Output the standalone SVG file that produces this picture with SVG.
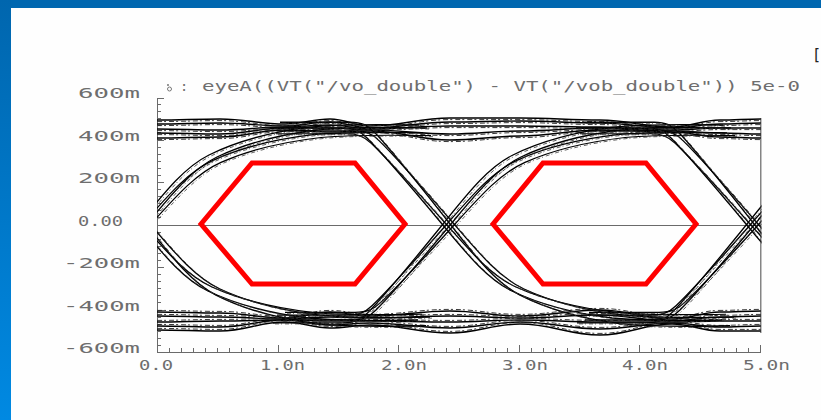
<svg xmlns="http://www.w3.org/2000/svg" width="821" height="420" viewBox="0 0 821 420">
<defs>
<style>
.lbl{font-family:"DejaVu Sans Mono","Liberation Mono",monospace;font-size:13.5px;fill:#6e6e6e}
.ax{stroke:#6a6a6a;stroke-width:1;fill:none;shape-rendering:crispEdges}
.eye{fill:none;stroke:#ff0000;stroke-width:5;stroke-linejoin:miter}
</style>
<linearGradient id="lb" x1="0" y1="0" x2="0" y2="1">
<stop offset="0" stop-color="#0066AE"/><stop offset="1" stop-color="#0089E2"/>
</linearGradient>
<clipPath id="plot"><rect x="157" y="98" width="604.5" height="255"/></clipPath>
<path id="tr" d="M -170 -96 L -100 -96 C -88 -96 -82 -93 -75 -86 C -60 -71 -25 -30 0 0 C 25 30 45 55 70 67 C 95 79 130 89 170 94 C 200 97 230 97 280 96"/>
<g id="xb">
<use href="#tr" transform="translate(-6,0) scale(1,1)"/>
<use href="#tr" transform="translate(-2,0) scale(1,0.94)"/>
<use href="#tr" transform="translate(2,0) scale(1,1.06)"/>
<use href="#tr" transform="translate(6,0) scale(1,0.97)"/>
<use href="#tr" transform="translate(-5,0) scale(1,-1.03)"/>
<use href="#tr" transform="translate(-1,0) scale(1,-0.95)"/>
<use href="#tr" transform="translate(3,0) scale(1,-1)"/>
<use href="#tr" transform="translate(7,0) scale(1,-0.92)"/>
</g>
<g id="bt">
<path d="M157,120 C182,120 195,119 220,119 C246,119 259,124 285,124 C303,124 312,119 330,119 C346,119 354,126 370,126 C402,126 418,118 450,118 C478,118 492,118 520,118 C552,118 568,120 600,120 C629,120 643,127 672,127 C691,127 701,120 720,120 C736,120 745,119 761,119"/>
<path d="M157,129 C182,129 195,130 220,130 C246,130 259,127 285,127 C303,127 312,125 330,125 C346,125 354,129 370,129 C402,129 418,126 450,126 C478,126 492,126 520,126 C552,126 568,127 600,127 C629,127 643,130 672,130 C691,130 701,128 720,128 C736,128 745,128 761,128"/>
<path d="M157,138 C182,138 195,137 220,137 C246,137 259,130 285,130 C303,130 312,132 330,132 C346,132 354,131 370,131 C402,131 418,140 450,140 C478,140 492,136 520,136 C552,136 568,130 600,130 C629,130 643,132 672,132 C691,132 701,137 720,137 C736,137 745,138 761,138"/>
<path d="M157,124 C182,124 195,123 220,123 C246,123 259,126 285,126 C303,126 312,122 330,122 C346,122 354,128 370,128 C402,128 418,122 450,122 C478,122 492,121 520,121 C552,121 568,123 600,123 C629,123 643,128 672,128 C691,128 701,124 720,124 C736,124 745,123 761,123"/>
<path d="M157,133 C182,133 195,134 220,134 C246,134 259,128 285,128 C303,128 312,128 330,128 C346,128 354,130 370,130 C402,130 418,134 450,134 C478,134 492,131 520,131 C552,131 568,128 600,128 C629,128 643,131 672,131 C691,131 701,133 720,133 C736,133 745,134 761,134"/>
</g>
<g id="bb">
<path d="M157,312 C182,312 195,313 220,313 C246,313 259,318 285,318 C303,318 312,312 330,312 C346,312 354,316 370,316 C402,316 418,311 450,311 C478,311 492,316 520,316 C552,316 568,310 600,310 C629,310 643,319 672,319 C691,319 701,312 720,312 C736,312 745,311 761,311"/>
<path d="M157,322 C182,322 195,321 220,321 C246,321 259,320 285,320 C303,320 312,321 330,321 C346,321 354,321 370,321 C402,321 418,322 450,322 C478,322 492,320 520,320 C552,320 568,322 600,322 C629,322 643,322 672,322 C691,322 701,321 720,321 C736,321 745,321 761,321"/>
<path d="M157,330 C182,330 195,331 220,331 C246,331 259,322 285,322 C303,322 312,328 330,328 C346,328 354,325 370,325 C402,325 418,333 450,333 C478,333 492,324 520,324 C552,324 568,335 600,335 C629,335 643,324 672,324 C691,324 701,331 720,331 C736,331 745,331 761,331"/>
<path d="M157,326 C182,326 195,327 220,327 C246,327 259,320 285,320 C303,320 312,325 330,325 C346,325 354,323 370,323 C402,323 418,328 450,328 C478,328 492,322 520,322 C552,322 568,329 600,329 C629,329 643,323 672,323 C691,323 701,327 720,327 C736,327 745,326 761,326"/>
<path d="M157,316 C182,316 195,317 220,317 C246,317 259,319 285,319 C303,319 312,317 330,317 C346,317 354,318 370,318 C402,318 418,316 450,316 C478,316 492,318 520,318 C552,318 568,315 600,315 C629,315 643,321 672,321 C691,321 701,317 720,317 C736,317 745,316 761,316"/>
</g>
</defs>

<rect x="0" y="0" width="821" height="420" fill="#fefefe"/>
<rect x="0" y="0" width="821" height="8" fill="#0067B0"/>
<rect x="0" y="0" width="11" height="420" fill="url(#lb)"/>

<g id="axes">
<path class="ax" d="M157.5,98 V352.5 H761"/>
<path class="ax" d="M157,225 H761" stroke="#888"/>
<path class="ax" d="M169,352v-4M181,352v-4M193,352v-4M205,352v-4M217,352v-4M229,352v-4M241,352v-4M253,352v-4M266,352v-4M290,352v-4M302,352v-4M314,352v-4M326,352v-4M338,352v-4M350,352v-4M362,352v-4M374,352v-4M386,352v-4M410,352v-4M422,352v-4M434,352v-4M446,352v-4M459,352v-4M471,352v-4M483,352v-4M495,352v-4M507,352v-4M531,352v-4M543,352v-4M555,352v-4M567,352v-4M579,352v-4M591,352v-4M603,352v-4M615,352v-4M627,352v-4M651,352v-4M664,352v-4M676,352v-4M688,352v-4M700,352v-4M712,352v-4M724,352v-4M736,352v-4M748,352v-4M278,352v-7M398,352v-7M519,352v-7M639,352v-7M760,352v-7"/>
<path class="ax" d="M157,98h7M157,104.6h4M157,111.7h4M157,118.8h4M157,125.8h4M157,132.9h4M157,140h7M157,147.1h4M157,154.2h4M157,161.3h4M157,168.3h4M157,175.4h4M157,182.5h7M157,189.6h4M157,196.7h4M157,203.8h4M157,210.8h4M157,217.9h4M157,225h7M157,232.1h4M157,239.2h4M157,246.3h4M157,253.3h4M157,260.4h4M157,267.5h7M157,274.6h4M157,281.7h4M157,288.8h4M157,295.8h4M157,302.9h4M157,310h7M157,317.1h4M157,324.2h4M157,331.3h4M157,338.3h4M157,345.4h4"/>
</g>

<g id="labels" class="lbl">
<text x="78" y="98" textLength="62" lengthAdjust="spacingAndGlyphs">600m</text>
<text x="78" y="140.5" textLength="62" lengthAdjust="spacingAndGlyphs">400m</text>
<text x="78" y="183" textLength="62" lengthAdjust="spacingAndGlyphs">200m</text>
<text x="78" y="225.5" textLength="45" lengthAdjust="spacingAndGlyphs">0.00</text>
<text x="63" y="268" textLength="77" lengthAdjust="spacingAndGlyphs">-200m</text>
<text x="63" y="310.5" textLength="77" lengthAdjust="spacingAndGlyphs">-400m</text>
<text x="63" y="353" textLength="77" lengthAdjust="spacingAndGlyphs">-600m</text>
<text x="139" y="370" textLength="34" lengthAdjust="spacingAndGlyphs">0.0</text>
<text x="260" y="370" textLength="45" lengthAdjust="spacingAndGlyphs">1.0n</text>
<text x="381" y="370" textLength="46" lengthAdjust="spacingAndGlyphs">2.0n</text>
<text x="502" y="370" textLength="46" lengthAdjust="spacingAndGlyphs">3.0n</text>
<text x="622" y="370" textLength="46" lengthAdjust="spacingAndGlyphs">4.0n</text>
<text x="743" y="370" textLength="47" lengthAdjust="spacingAndGlyphs">5.0n</text>
<text x="180" y="91">:</text>
<text x="202" y="91" textLength="598" lengthAdjust="spacingAndGlyphs">eyeA((VT("/vo_double") - VT("/vob_double")) 5e-0</text>
<text x="812" y="60" style="fill:#222;font-size:15px">[</text>
</g>
<g id="marker" fill="none" stroke="#777" stroke-width="1">
<circle cx="169.5" cy="89" r="2"/>
<circle cx="168" cy="85" r="0.6" fill="#777"/>
</g>

<g id="traces" clip-path="url(#plot)" fill="none">
<use href="#bt" stroke="#000" stroke-width="1.4"/>
<use href="#bt" transform="translate(0,1.6)" stroke="#222" stroke-width="0.9" stroke-dasharray="5 2 2 3"/>
<use href="#bb" stroke="#000" stroke-width="1.4"/>
<use href="#bb" transform="translate(0,-1.6)" stroke="#222" stroke-width="0.9" stroke-dasharray="5 2 2 3"/>
<use href="#xb" transform="translate(144,224)" stroke="#000" stroke-width="1.3"/>
<use href="#xb" transform="translate(448,224)" stroke="#000" stroke-width="1.3"/>
<use href="#xb" transform="translate(752,224)" stroke="#000" stroke-width="1.3"/>
<use href="#xb" transform="translate(146,225)" stroke="#333" stroke-width="0.8" stroke-dasharray="4 2 1 3"/>
<use href="#xb" transform="translate(450,225)" stroke="#333" stroke-width="0.8" stroke-dasharray="4 2 1 3"/>
<use href="#xb" transform="translate(754,225)" stroke="#333" stroke-width="0.8" stroke-dasharray="4 2 1 3"/>
<path d="M761,118V333" stroke="#333" stroke-width="1.2"/>
</g>

<g id="mask1">
<polygon class="eye" points="201,224 252,163 355,163 405,224 355,284 252,284"/>
</g>
<g id="mask2">
<polygon class="eye" points="493,224 543,163 646,163 696,224 646,284 543,284"/>
</g>
</svg>
